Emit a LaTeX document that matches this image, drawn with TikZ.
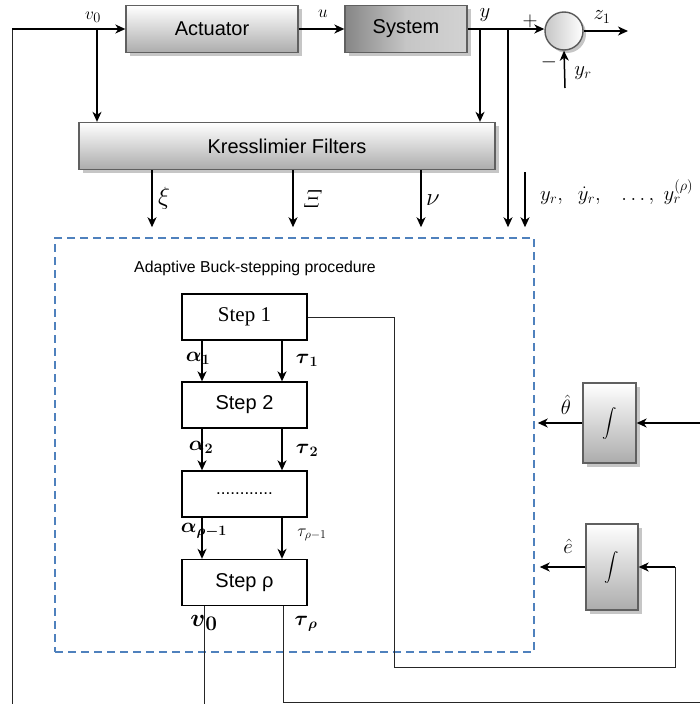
\documentclass[tikz,border=0pt]{standalone}
\usepackage{amsmath}
\usepackage[no-math]{fontspec}
\setmainfont{Liberation Sans}
\newfontfamily\serifstep{Liberation Serif}
\usetikzlibrary{arrows.meta,shadows}
\begin{document}
\begin{tikzpicture}[x=1pt,y=-1pt,
  arr/.style={line width=1.5pt,-{Stealth[length=10pt,width=9pt,inset=3pt]}},
  thinline/.style={line width=0.8pt,draw=black!85},
  blk/.style={draw=gray!75!black,line width=1.3pt,top color=white,bottom color=gray!65,
    drop shadow={shadow xshift=3.5pt,shadow yshift=-3.5pt,fill=gray!45,opacity=1},
    font=\fontsize{20}{22}\selectfont,inner sep=0pt},
  stepbox/.style={draw=black,line width=1.3pt,fill=white,minimum width=125pt,minimum height=46pt,
    font=\fontsize{20}{22}\selectfont,inner sep=0pt},
  lbl/.style={font=\fontsize{22}{24}\selectfont,inner sep=0pt},
  sml/.style={font=\fontsize{19}{21}\selectfont,inner sep=0pt},
  intbox/.style={blk,font=\fontsize{15}{17}\selectfont}]
\useasboundingbox (0,0) rectangle (700,704);

% plant chain
\node[blk,minimum width=172pt,minimum height=47pt] (act) at (212,29) {Actuator};
\node[blk,minimum width=122pt,minimum height=47pt,
  left color=gray!95,right color=gray!35,middle color=gray!45] (sys) at (406,29) {System};
\node[circle,draw=gray!70!black,line width=1.4pt,minimum size=38pt,inner sep=0pt,
  left color=gray!45,right color=white,
  drop shadow={shadow xshift=3pt,shadow yshift=-3pt,fill=gray!45,opacity=1}] (sum) at (564,31) {};

% filters
\node[blk,minimum width=416pt,minimum height=47pt] (filt) at (287,146) {Kresslimier Filters};

% adaptive procedure frame
\node[draw={rgb,255:red,79;green,129;blue,189},line width=1.5pt,dash pattern=on 8pt off 5pt,
  minimum width=479pt,minimum height=414pt,inner sep=0pt] (proc) at (294.5,445) {};
\node[inner sep=0pt,font=\fontsize{15.8}{18}\selectfont] (ptitle) at (255,268) {Adaptive Buck-stepping procedure};

% steps
\node[stepbox,font=\serifstep\fontsize{21}{23}\selectfont] (s1) at (244.5,317) {Step\ 1};
\node[stepbox] (s2) at (244.5,405) {Step\ 2};
\node[stepbox,font=\fontsize{17}{19}\selectfont] (s3) at (244.5,494) {............};
\node[stepbox] (sr) at (244.5,582.5) {Step ρ};

% integrators
\node[intbox,minimum width=53pt,minimum height=80pt] (int1) at (609.5,423) {$\displaystyle\int$};
\node[intbox,minimum width=52pt,minimum height=86pt] (int2) at (612,567) {$\displaystyle\int$};

% signal labels (set before the arrows, which run over them)
\node[sml] (lv0) at (93,17) {$v_0$};
\node[sml] (lu) at (323,14) {$u$};
\node[sml,font=\fontsize{20}{22}\selectfont] (ly) at (485,15) {$y$};
\node[lbl] (lplus) at (530,21) {$+$};
\node[lbl] (lminus) at (549,62) {$-$};
\node[lbl,font=\fontsize{21}{23}\selectfont] (lz1) at (602,17) {$z_1$};
\node[lbl,font=\fontsize{20}{22}\selectfont] (lyr) at (583,73) {$y_r$};
\node[lbl,font=\fontsize{25}{27}\selectfont] (lxi) at (164,198) {$\xi$};
\node[lbl,font=\fontsize{24}{26}\selectfont] (lXi) at (313,199) {$\varXi$};
\node[lbl,font=\fontsize{23}{25}\selectfont] (lnu) at (433,200) {$\nu$};
\node[lbl,anchor=west] (lref) at (540,192)
  {$y_r,\;\; \dot y_r,\;\;\; \ldots,\; y_r^{(\rho)}$};
\node[lbl] (la1) at (198,358) {$\boldsymbol{\alpha}_{\boldsymbol{1}}$};
\node[lbl,font=\fontsize{21}{23}\selectfont] (lt1) at (307,360) {$\boldsymbol{\tau}_{\boldsymbol{1}}$};
\node[lbl] (la2) at (201,447) {$\boldsymbol{\alpha}_{\boldsymbol{2}}$};
\node[lbl,font=\fontsize{21}{23}\selectfont] (lt2) at (307,450) {$\boldsymbol{\tau}_{\boldsymbol{2}}$};
\node[lbl,font=\fontsize{20}{22}\selectfont] (la3) at (204,531) {$\boldsymbol{\alpha}_{\boldsymbol{\rho-1}}$};
\node[sml,font=\fontsize{17}{19}\selectfont] (lt3) at (312,535) {$\tau_{\rho-1}$};
\node[lbl,font=\fontsize{28}{30}\selectfont] (lv0b) at (204,623) {$\boldsymbol{v}_{\boldsymbol{0}}$};
\node[lbl,font=\fontsize{21}{23}\selectfont] (ltr) at (306,624) {$\boldsymbol{\tau}_{\boldsymbol{\rho}}$};
\node[lbl] (lth) at (566,405) {$\hat{\theta}$};
\node[lbl] (le) at (568,546) {$\hat{e}$};

% coordinates of branch points and free ends
\coordinate (lb) at (12,704);
\coordinate (lt) at (12,29);
\coordinate (j0) at (97,29);
\coordinate (jy1) at (480,29);
\coordinate (jy2) at (508,29);
\coordinate (yrs) at (525,172);
\coordinate (yrin) at (565,88);
\coordinate (z1) at (628,31);
\coordinate (thin) at (700,423);
\coordinate (vout) at (204,704);
\coordinate (tauc) at (283,702);
\coordinate (tauend) at (700,702);
\coordinate (c1) at (394,667);
\coordinate (c2) at (675,667);
\coordinate (c3) at (675,567);

% signal paths
\draw[thinline] (lb) -- (lt);
\draw[arr] (lt) -- (act.west);
\draw[arr] (j0) -- (j0 |- filt.north);
\draw[arr] (act.east) -- (sys.west);
\draw[arr] (sys.east) -- (sys.east -| sum.west);
\draw[arr] (jy1) -- (jy1 |- filt.north);
\draw[arr,shorten >=10pt] (jy2) -- (jy2 |- proc.north);
\draw[arr,shorten >=10pt] (yrs) -- (yrs |- proc.north);
\draw[arr] (yrin) -- (sum.south);
\draw[arr] (sum.east) -- (z1);

% filter outputs
\draw[arr,shorten >=10pt] ([xshift=-135pt]filt.south) -- ([xshift=-135pt]filt.south |- proc.north);
\draw[arr,shorten >=10pt] ([xshift=6pt]filt.south) -- ([xshift=6pt]filt.south |- proc.north);
\draw[arr,shorten >=10pt] ([xshift=134pt]filt.south) -- ([xshift=134pt]filt.south |- proc.north);

% step chain
\foreach \a/\b in {s1/s2,s2/s3,s3/sr}{
  \draw[arr] ([xshift=-42.5pt]\a.south) -- ([xshift=-42.5pt]\b.north);
  \draw[arr] ([xshift=37.5pt]\a.south) -- ([xshift=37.5pt]\b.north);
}
\draw[thinline] ([xshift=-40.5pt]sr.south) -- (vout);
\draw[thinline] ([xshift=38.5pt]sr.south) -- (tauc) -- (tauend);

% estimator loops
\draw[thinline] (s1.east) -| (c1) -- (c2) -- (c3);
\draw[arr] (c3) -- (int2.east);
\draw[arr] (thin) -- (int1.east);
\draw[arr] (int1.west) -- ([xshift=3pt]proc.east |- int1.west);
\draw[arr] (int2.west) -- ([xshift=5pt]proc.east |- int2.west);
\end{tikzpicture}
\end{document}
